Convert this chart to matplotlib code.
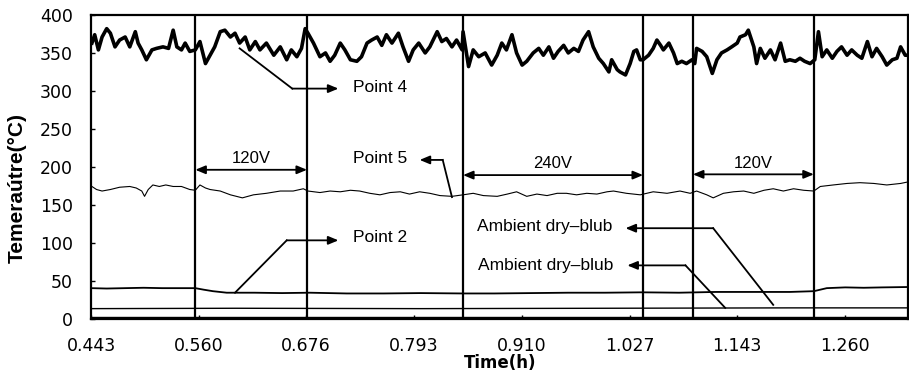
import matplotlib.pyplot as plt

# Time (h) and temperature readings (deg C)
t_p4 = [0.444, 0.447, 0.451, 0.455, 0.460, 0.464, 0.469, 0.474, 0.480, 0.485,
        0.491, 0.494, 0.498, 0.503, 0.509, 0.514, 0.521, 0.527, 0.532, 0.536,
        0.541, 0.545, 0.550, 0.556, 0.561, 0.567, 0.572, 0.577, 0.583, 0.588,
        0.594, 0.599, 0.604, 0.610, 0.615, 0.621, 0.626, 0.633, 0.641, 0.648,
        0.655, 0.660, 0.666, 0.671, 0.675, 0.678, 0.684, 0.691, 0.697, 0.702,
        0.707, 0.713, 0.718, 0.724, 0.731, 0.736, 0.742, 0.747, 0.753, 0.758,
        0.763, 0.769, 0.776, 0.781, 0.787, 0.792, 0.798, 0.805, 0.810, 0.818,
        0.823, 0.828, 0.834, 0.839, 0.845, 0.846, 0.852, 0.857, 0.863, 0.870,
        0.877, 0.883, 0.888, 0.893, 0.899, 0.904, 0.910, 0.915, 0.922, 0.928,
        0.933, 0.939, 0.944, 0.949, 0.955, 0.960, 0.966, 0.971, 0.976, 0.982,
        0.987, 0.993, 0.998, 1.004, 1.007, 1.013, 1.016, 1.022, 1.027, 1.031,
        1.034, 1.038, 1.041, 1.047, 1.052, 1.056, 1.060, 1.063, 1.069, 1.074,
        1.078, 1.083, 1.088, 1.094, 1.097, 1.099, 1.105, 1.110, 1.116, 1.121,
        1.126, 1.132, 1.137, 1.143, 1.146, 1.152, 1.155, 1.161, 1.164, 1.168,
        1.173, 1.179, 1.184, 1.190, 1.195, 1.200, 1.206, 1.211, 1.216, 1.222,
        1.227, 1.231, 1.235, 1.240, 1.246, 1.251, 1.256, 1.262, 1.267, 1.273,
        1.278, 1.284, 1.289, 1.294, 1.300, 1.305, 1.311, 1.316, 1.320, 1.325,
        1.328]
v_p4 = [363, 374, 354, 371, 382, 376, 358, 367, 371, 358,
        378, 363, 354, 341, 354, 356, 358, 356, 380, 358,
        354, 363, 352, 354, 365, 336, 347, 358, 378, 380,
        371, 376, 363, 371, 354, 365, 354, 363, 347, 358,
        341, 354, 345, 356, 382, 376, 363, 345, 350, 339,
        347, 363, 354, 341, 339, 345, 363, 367, 371, 360,
        374, 363, 376, 358, 339, 354, 363, 350, 358, 378,
        365, 369, 358, 367, 354, 378, 332, 354, 345, 350,
        334, 347, 363, 354, 374, 350, 334, 339, 350, 356,
        347, 358, 343, 352, 360, 350, 356, 352, 367, 378,
        358, 343, 336, 325, 341, 328, 325, 321, 336, 352,
        354, 341, 341, 347, 356, 367, 360, 354, 363, 350,
        336, 339, 336, 341, 336, 356, 352, 345, 323, 341,
        350, 354, 358, 363, 371, 374, 380, 358, 336, 356,
        343, 354, 341, 363, 339, 341, 339, 343, 339, 336,
        341, 378, 345, 354, 343, 352, 358, 347, 354, 347,
        343, 365, 345, 356, 345, 334, 341, 343, 358, 347,
        347]

t_p5 = [0.444, 0.449, 0.455, 0.464, 0.474, 0.485, 0.492, 0.498, 0.501, 0.505,
        0.510, 0.517, 0.524, 0.532, 0.541, 0.550, 0.556, 0.561, 0.567, 0.572,
        0.583, 0.594, 0.607, 0.619, 0.633, 0.648, 0.662, 0.673, 0.678, 0.691,
        0.702, 0.713, 0.724, 0.734, 0.745, 0.756, 0.767, 0.778, 0.788, 0.799,
        0.810, 0.821, 0.834, 0.846, 0.857, 0.868, 0.883, 0.894, 0.904, 0.915,
        0.926, 0.937, 0.948, 0.958, 0.969, 0.980, 0.991, 1.002, 1.009, 1.023,
        1.038, 1.052, 1.067, 1.081, 1.092, 1.099, 1.110, 1.117, 1.128, 1.139,
        1.150, 1.161, 1.172, 1.182, 1.193, 1.204, 1.215, 1.226, 1.233, 1.247,
        1.262, 1.276, 1.291, 1.305, 1.320, 1.328]
v_p5 = [174, 170, 168, 170, 173, 174, 172, 168, 161, 170,
        176, 174, 176, 174, 174, 170, 169, 176, 172, 170,
        168, 163, 159, 163, 165, 168, 168, 171, 168, 166,
        168, 167, 169, 168, 165, 163, 166, 167, 164, 167,
        165, 162, 161, 163, 165, 162, 161, 164, 167, 161,
        164, 162, 165, 165, 163, 165, 164, 167, 168, 165,
        163, 167, 165, 168, 165, 168, 163, 159, 165, 167,
        168, 165, 169, 171, 168, 171, 169, 168, 174, 176,
        178, 179, 178, 176, 178, 180]

t_p2 = [0.443, 0.46, 0.48, 0.50, 0.52, 0.54, 0.556, 0.565, 0.575, 0.59,
        0.62, 0.65, 0.68, 0.72, 0.76, 0.80, 0.846, 0.88, 0.92, 0.96,
        1.00, 1.04, 1.08, 1.12, 1.16, 1.20, 1.226, 1.24, 1.26, 1.28,
        1.30, 1.328]
v_p2 = [40, 39.5, 40, 40.5, 40, 40, 40, 38, 36, 34,
        34, 33.5, 34, 33, 33, 33.5, 33, 33, 33.5, 34,
        34, 34.5, 34, 35, 35, 35, 36, 40, 41, 40.5,
        41, 41.5]

t_amb = [0.443, 0.60, 0.80, 1.00, 1.20, 1.328]
v_amb1 = [13, 13.5, 13, 13.5, 14, 14]
v_amb2 = [1.5, 1.5, 1.5, 1.5, 1.5, 1.5]

# voltage change times (vertical lines)
t_switch = [0.556, 0.677, 0.846, 1.041, 1.095, 1.226]

x_ticks = [0.443, 0.560, 0.676, 0.793, 0.910, 1.027, 1.143, 1.260]
x_labels = ['0.443', '0.560', '0.676', '0.793', '0.910', '1.027', '1.143', '1.260']
y_ticks = [0, 50, 100, 150, 200, 250, 300, 350, 400]

fig = plt.figure(figsize=(9.09, 3.8), dpi=100)
ax = fig.add_axes([91 / 909, 1 - 318.5 / 380, 817 / 909, 303.5 / 380])

ax.plot(t_p4, v_p4, color='black', lw=2.6)
ax.plot(t_p5, v_p5, color='black', lw=0.8)
ax.plot(t_p2, v_p2, color='black', lw=1.3)
ax.plot(t_amb, v_amb1, color='black', lw=1.0)
ax.plot(t_amb, v_amb2, color='black', lw=1.0)
for t in t_switch:
    ax.axvline(t, color='black', lw=1.6)

ax.set_xlim(0.443, 1.328)
ax.set_ylim(0, 400)
ax.set_xticks(x_ticks)
ax.set_xticklabels(x_labels)
ax.set_yticks(y_ticks)
ax.tick_params(direction='in', length=3, width=1, labelsize=12.5, pad=13)
for s in ax.spines.values():
    s.set_linewidth(1.6)

txt = dict(family='Liberation Sans', fontsize=12.5, color='black')
head = dict(arrowstyle='-|>,head_width=0.25,head_length=0.6', color='black',
            lw=1.3, shrinkA=0, shrinkB=0)
both = dict(arrowstyle='<|-|>,head_width=0.25,head_length=0.6', color='black',
            lw=1.3, shrinkA=0, shrinkB=0)

# leader lines: (start on curve, corner, arrow head)
leaders = [
    ((0.604, 356), (0.661, 303), (0.711, 303)),
    ((0.834, 160), (0.824, 209), (0.799, 209)),
    ((0.599, 34), (0.655, 103), (0.711, 103)),
    ((1.182, 18), (1.117, 119), (1.022, 119)),
    ((1.130, 14), (1.087, 70), (1.024, 70)),
]
for p0, p1, p2 in leaders:
    ax.plot([p0[0], p1[0]], [p0[1], p1[1]], color='black', lw=1.3)
    ax.annotate('', xy=p2, xytext=p1, arrowprops=head)

ax.text(0.727, 304, 'Point 4', va='center', ha='left', **txt)
ax.text(0.727, 211, 'Point 5', va='center', ha='left', **txt)
ax.text(0.727, 107, 'Point 2', va='center', ha='left', **txt)
ax.text(0.861, 121, 'Ambient dry\u2013blub', va='center', ha='left', **txt)
ax.text(0.862, 70, 'Ambient dry\u2013blub', va='center', ha='left', **txt)

# voltage spans
spans = [(0.556, 0.677, 196, '120V'), (0.846, 1.041, 189, '240V'),
         (1.095, 1.226, 190, '120V')]
for a, b, y, lab in spans:
    ax.annotate('', xy=(b, y), xytext=(a, y), arrowprops=both)
    ax.text((a + b) / 2, y + 5, lab, ha='center', va='bottom',
            family='Liberation Sans', fontsize=12)

fig.text(17 / 909, 1 - 188 / 380, 'Temeraútre(°C)', rotation=90,
         ha='center', va='center', family='Liberation Sans',
         fontweight='bold', fontsize=15)
fig.text(500 / 909, 1 - 363 / 380, 'Time(h)', ha='center', va='center',
         fontweight='bold', fontsize=12)

fig.savefig('out.png', dpi=100)
